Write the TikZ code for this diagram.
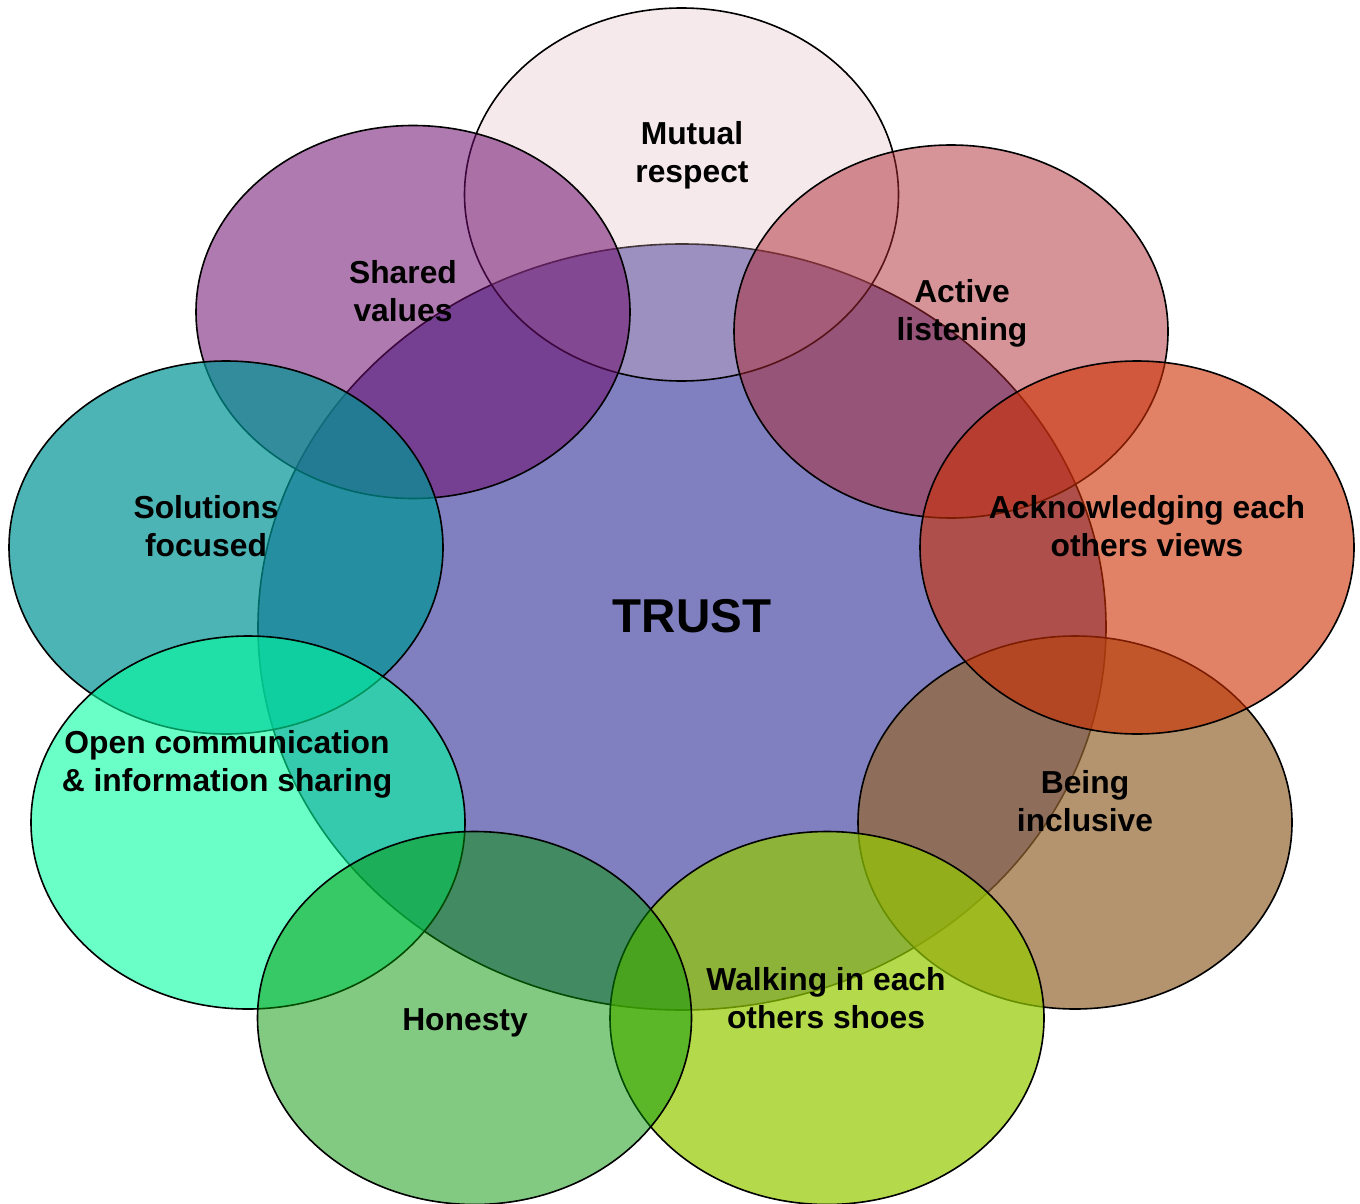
\documentclass[tikz,border=0pt]{standalone}
\usepackage{fontspec}
\setmainfont{Liberation Sans}
\usetikzlibrary{shapes.geometric}

\definecolor{cTrust}{RGB}{128,128,192}
\definecolor{cMutual}{RGB}{222,182,192}
\definecolor{cActive}{RGB}{173,41,51}
\definecolor{cAck}{RGB}{205,47,0}
\definecolor{cIncl}{RGB}{148,102,48}
\definecolor{cWalk}{RGB}{148,202,0}
\definecolor{cHonest}{RGB}{5,149,5}
\definecolor{cOpen}{RGB}{0,255,160}
\definecolor{cSol}{RGB}{0,148,148}
\definecolor{cShared}{RGB}{110,13,110}

\begin{document}
\begin{tikzpicture}[x=1pt,y=-1pt,
  petal/.style={ellipse, draw=black, line width=1.6pt, inner sep=0pt,
                minimum width=434pt, minimum height=373pt},
  lbl/.style={font=\bfseries\fontsize{31.8}{38}\selectfont, align=center,
              inner sep=0pt, text=black}]
\useasboundingbox (0,0) rectangle (1360,1204);
\clip (0,0) rectangle (1360,1204);

% central ellipse
\node[ellipse, draw=black, line width=1.6pt, fill=cTrust, inner sep=0pt,
      minimum width=848pt, minimum height=766pt] (trust) at (682,627) {};

% surrounding ellipses, in stacking order
\node[petal, fill=cMutual, fill opacity=0.30] (mutual)    at (681.5,194.5) {};
\node[petal, fill=cActive, fill opacity=0.50] (active)    at (951,331.5) {};
\node[petal, fill=cIncl,   fill opacity=0.70] (inclusive) at (1075,822.5) {};
\node[petal, fill=cAck,    fill opacity=0.60] (ack)       at (1137,547.5) {};
\node[petal, fill=cWalk,   fill opacity=0.70] (walking)   at (827,1018) {};
\node[petal, fill=cShared, fill opacity=0.55] (shared)    at (413,312) {};
\node[petal, fill=cSol,    fill opacity=0.70] (solutions) at (226,547.5) {};
\node[petal, fill=cOpen,   fill opacity=0.58] (open)      at (248,822.5) {};
\node[petal, fill=cHonest, fill opacity=0.50] (honesty)   at (474.5,1018) {};

% labels
\node[font=\bfseries\fontsize{47.5}{56}\selectfont, inner sep=0pt] (ttrust) at (692,616) {TRUST};
\node[lbl] (tmutual)    at (692,155)  {Mutual\\respect};
\node[lbl] (tactive)    at (962,313)  {Active\\listening};
\node[lbl] (tack)       at (1147,526) {Acknowledging each\\others views};
\node[lbl] (tinclusive) at (1085,801.5) {Being\\inclusive};
\node[lbl] (twalking)   at (826,998)  {Walking in each\\others shoes};
\node[lbl] (thonesty)   at (465,1023) {Honesty};
\node[lbl] (topen)      at (227,764.5) {Open communication\\\& information sharing};
\node[lbl] (tsolutions) at (206,526)  {Solutions\\focused};
\node[lbl] (tshared)    at (403,291)  {Shared\\values};
\end{tikzpicture}
\end{document}
